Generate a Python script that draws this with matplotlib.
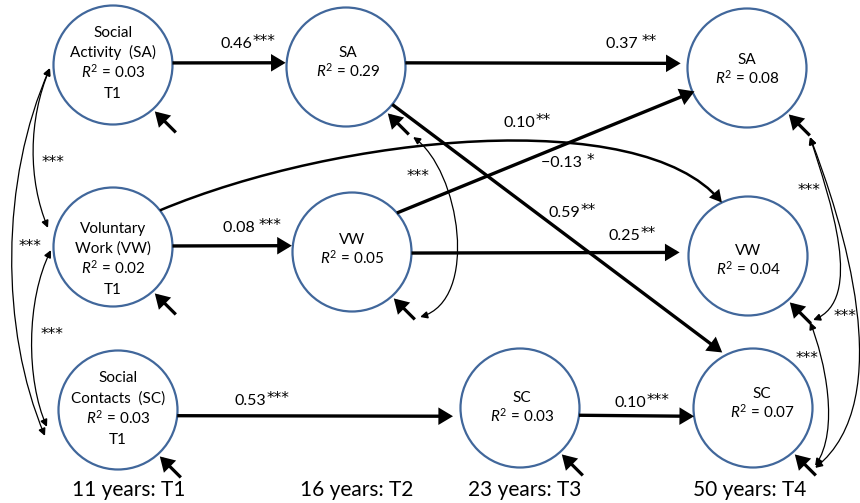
import numpy as np
import matplotlib
matplotlib.use("Agg")
import matplotlib.pyplot as plt
from matplotlib.patches import Circle, FancyArrowPatch, ArrowStyle
from matplotlib.path import Path

# ------------------------------------------------------------------ data
node_ids = ["SA1", "VW1", "SC1", "SA2", "VW2", "SC3", "SA4", "VW4", "SC4"]
node_titles = [["Social", "Activity  (SA)"], ["Voluntary", "Work (VW)"],
               ["Social", "Contacts  (SC)"], ["SA"], ["VW"], ["SC"],
               ["SA"], ["VW"], ["SC"]]
node_r2 = [0.03, 0.02, 0.03, 0.29, 0.05, 0.03, 0.08, 0.04, 0.07]
node_wave = ["T1", "T1", "T1", "", "", "", "", "", ""]
time_labels = ["11 years: T1", "16 years: T2", "23 years: T3", "50 years: T4"]

path_from = ["SA1", "SA2", "VW1", "VW2", "VW2", "SA2", "SC1", "SC3", "VW1"]
path_to = ["SA2", "SA4", "VW2", "VW4", "SA4", "SC4", "SC3", "SC4", "VW4"]
path_coef = [0.46, 0.37, 0.08, 0.25, -0.13, 0.59, 0.53, 0.10, 0.10]
path_sig = ["***", "**", "***", "**", "*", "**", "***", "***", "**"]
path_sep = ["", " ", " ", "", " ", "", "", "", ""]

cov_a = ["SA1", "SA1", "VW1", "SA2", "SA4", "SA4", "VW4"]
cov_b = ["VW1", "SC1", "SC1", "VW2", "VW4", "SC4", "SC4"]
cov_sig = ["***", "***", "***", "***", "***", "***", "***"]

# ------------------------------------------------------------------ layout (pixel coords, y down)
NODE_XY = {"SA1": (113, 65), "VW1": (113, 247), "SC1": (118, 410),
           "SA2": (346, 67), "VW2": (352, 252), "SC3": (520, 408),
           "SA4": (747, 68), "VW4": (748, 256), "SC4": (753, 408)}
NODE_R = 59.5
TEXT_TOP = {"SA1": (113, 31), "VW1": (113, 227), "SC1": (118, 377),
            "SA2": (348, 51), "VW2": (352, 238), "SC3": (522, 396),
            "SA4": (747, 58), "VW4": (748, 249), "SC4": (762, 392)}
LINE_H = 20.5
TIME_X = [129, 357, 525, 750]
TIME_Y = 496

# (source angle, target angle, target gap)
EDGE_ANCH = {("SA1", "SA2"): (-2, 184, 1), ("SA2", "SA4"): (-4, 184, 7),
             ("VW1", "VW2"): (-1, 186, 1), ("VW2", "VW4"): (1, 183, 9),
             ("VW2", "SA4"): (-41, 156, -2), ("SA2", "SC4"): (39, 241, 4),
             ("SC1", "SC3"): (5.5, 173, 8), ("SC3", "SC4"): (7, 172, 0),
             ("VW1", "VW4"): (-38, 244, 0)}
EDGE_CURVE = {("VW1", "VW4"): [(340, 135), (640, 105)]}
EDGE_LABEL = {("SA1", "SA2"): (248, 43), ("SA2", "SA4"): (631, 43),
              ("VW1", "VW2"): (252, 227), ("VW2", "VW4"): (632, 235),
              ("VW2", "SA4"): (567, 162), ("SA2", "SC4"): (572, 212),
              ("SC1", "SC3"): (262, 400), ("SC3", "SC4"): (642, 402),
              ("VW1", "VW4"): (527, 122)}

COV_PTS = {("SA1", "VW1"): [(50, 68), (28, 120), (28, 180), (48, 228)],
           ("SA1", "SC1"): [(50, 68), (0, 180), (0, 330), (45, 436)],
           ("VW1", "SC1"): [(51, 250), (26, 300), (26, 380), (47, 427)],
           ("SA2", "VW2"): [(413, 137), (460, 170), (480, 300), (420, 317)],
           ("SA4", "VW4"): [(810, 137), (830, 200), (865, 300), (813, 320)],
           ("SA4", "SC4"): [(810, 137), (842, 220), (900, 400), (815, 468)],
           ("VW4", "SC4"): [(810, 322), (825, 360), (840, 430), (815, 466)]}
COV_LABEL = {("SA1", "VW1"): (53, 160), ("SA1", "SC1"): (30, 244),
             ("VW1", "SC1"): (52, 332), ("SA2", "VW2"): (418, 174),
             ("SA4", "VW4"): (809, 188), ("SA4", "SC4"): (845, 314),
             ("VW4", "SC4"): (807, 357)}

RES_ANGLE = 48
RES_GAP = 3
RES_LEN = 21

CIRCLE_COLOR = "#41679B"
FONT = "Lato"
STAR_FONT = "DejaVu Sans"

plt.rcParams["font.family"] = [FONT, "DejaVu Sans"]
plt.rcParams["mathtext.fontset"] = "custom"
plt.rcParams["mathtext.rm"] = FONT
plt.rcParams["mathtext.it"] = FONT + ":italic"

fig = plt.figure(figsize=(8.6, 5.03), dpi=100)
ax = fig.add_axes([0, 0, 1, 1])
ax.set_xlim(0, 860)
ax.set_ylim(503, 0)
ax.axis("off")
renderer = fig.canvas.get_renderer()


def on_circle(node, ang, extra=0.0):
    cx, cy = NODE_XY[node]
    a = np.deg2rad(ang)
    r = NODE_R + extra
    return (cx + r * np.cos(a), cy + r * np.sin(a))


def arrow(p0=None, p1=None, lw=2.2, hl=6.5, hw=3.8, style="-|>", path=None, z=3):
    st = ArrowStyle(style, head_length=hl, head_width=hw)
    kw = dict(arrowstyle=st, lw=lw, color="black", mutation_scale=1,
              joinstyle="miter", capstyle="butt", zorder=z)
    if path is None:
        a = FancyArrowPatch(p0, p1, shrinkA=0, shrinkB=0, **kw)
    else:
        a = FancyArrowPatch(path=path, **kw)
    ax.add_patch(a)


def num_star_label(xc, yb, num, stars, fs_num=11.5, fs_star=10, rise=0.0):
    t1 = ax.text(0, yb, num, ha="left", va="baseline", fontsize=fs_num, zorder=5)
    t2 = ax.text(0, yb - rise, stars, ha="left", va="baseline", fontsize=fs_star,
                 family=STAR_FONT, zorder=5)
    w1 = t1.get_window_extent(renderer).width
    w2 = t2.get_window_extent(renderer).width
    x0 = xc - (w1 + w2) / 2.0
    t1.set_x(x0)
    t2.set_x(x0 + w1 + 0.5)


# circles
for nid in node_ids:
    ax.add_patch(Circle(NODE_XY[nid], NODE_R, fc="white", ec=CIRCLE_COLOR,
                        lw=1.6, zorder=2))

# node texts
for nid, title, r2, wave in zip(node_ids, node_titles, node_r2, node_wave):
    x, y = TEXT_TOP[nid]
    lines = list(title) + [r"$R^2$ = %.2f" % r2]
    if wave:
        lines.append(wave)
    for i, s in enumerate(lines):
        ax.text(x, y + i * LINE_H + 5.5, s, ha="center", va="baseline",
                fontsize=11, zorder=5)

# residual arrows
for nid in node_ids:
    tip = on_circle(nid, RES_ANGLE, RES_GAP)
    tail = (tip[0] + RES_LEN, tip[1] + RES_LEN)
    arrow(tail, tip, lw=2.3, hl=7, hw=4.2)

# structural paths
for f, t, c, s, sep in zip(path_from, path_to, path_coef, path_sig, path_sep):
    a_src, a_tgt, gap = EDGE_ANCH[(f, t)]
    p0 = on_circle(f, a_src)
    p1 = on_circle(t, a_tgt, gap)
    if (f, t) in EDGE_CURVE:
        c1, c2 = EDGE_CURVE[(f, t)]
        pth = Path([p0, c1, c2, p1], [Path.MOVETO, Path.CURVE4, Path.CURVE4, Path.CURVE4])
        arrow(path=pth, lw=1.8, hl=6, hw=3.3)
    else:
        arrow(p0, p1, lw=2.4, hl=7, hw=4.2)
    lx, ly = EDGE_LABEL[(f, t)]
    num = ("%.2f" % c).replace("-", "\u2212") + sep
    num_star_label(lx, ly + 5, num, s, fs_num=11.5, fs_star=11, rise=2.0)

# covariances
for a, b, s in zip(cov_a, cov_b, cov_sig):
    pts = COV_PTS[(a, b)]
    pth = Path(pts, [Path.MOVETO, Path.CURVE4, Path.CURVE4, Path.CURVE4])
    arrow(path=pth, lw=0.9, hl=4.5, hw=2.2, style="<|-|>", z=4)
    lx, ly = COV_LABEL[(a, b)]
    ax.text(lx, ly + 6.5, s, ha="center", va="baseline", fontsize=11,
            family=STAR_FONT, zorder=5)

# time labels
for x, s in zip(TIME_X, time_labels):
    ax.text(x, TIME_Y, s, ha="center", va="baseline", fontsize=15, zorder=5)

fig.savefig("out.png", dpi=100, facecolor="white")
